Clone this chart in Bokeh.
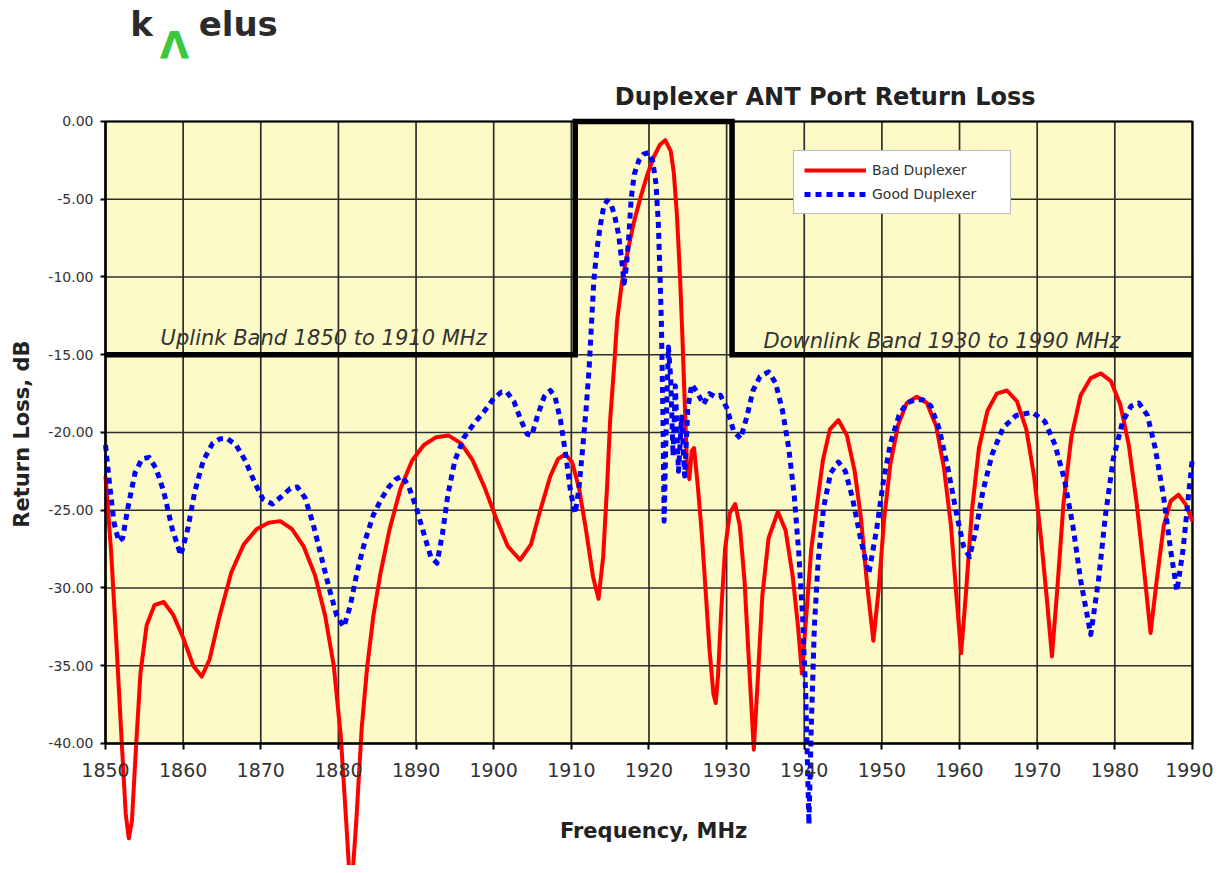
import numpy as np
from bokeh.plotting import figure
from bokeh.models import (Range1d, LinearAxis, FixedTicker, PrintfTickFormatter,
                          Label, Legend, LegendItem)
from bokeh.embed import file_html
from bokeh.resources import INLINE

# ---------------- data ----------------
bad_freq = [1850.0, 1850.7, 1851.4, 1852.1, 1852.6, 1853.0, 1853.4, 1853.9, 1854.5, 1855.3,
            1856.3, 1857.5, 1858.7, 1860.0, 1861.3, 1862.4, 1863.4, 1864.7, 1866.2, 1867.8,
            1869.5, 1871.0, 1872.5, 1874.0, 1875.5, 1877.0, 1878.3, 1879.4, 1880.3, 1881.0,
            1881.6, 1882.3, 1883.0, 1883.7, 1884.5, 1885.4, 1886.6, 1888.0, 1889.5, 1891.0,
            1892.6, 1894.2, 1895.8, 1897.3, 1898.8, 1900.3, 1901.8, 1903.4, 1904.8, 1906.0,
            1907.3, 1908.3, 1909.2, 1910.1, 1911.0, 1911.9, 1912.8, 1913.5, 1914.1, 1914.6,
            1915.0, 1915.5, 1915.9, 1916.5, 1917.2, 1918.0, 1918.9, 1919.8, 1920.6, 1921.4,
            1922.1, 1922.8, 1923.2, 1923.6, 1924.0, 1924.3, 1924.6, 1924.9, 1925.2, 1925.5,
            1925.8, 1926.3, 1926.8, 1927.3, 1927.8, 1928.3, 1928.6, 1928.9, 1929.3, 1929.8,
            1930.4, 1931.1, 1931.7, 1932.3, 1932.9, 1933.5, 1934.0, 1934.6, 1935.4, 1936.6,
            1937.6, 1938.5, 1939.2, 1939.7, 1940.3, 1940.9, 1941.6, 1942.4, 1943.3, 1944.4,
            1945.5, 1946.5, 1947.3, 1948.1, 1948.9, 1949.6, 1950.3, 1951.1, 1952.1, 1953.2,
            1954.5, 1955.8, 1957.0, 1958.0, 1958.9, 1959.6, 1960.2, 1960.8, 1961.6, 1962.5,
            1963.6, 1964.8, 1966.1, 1967.4, 1968.6, 1969.6, 1970.5, 1971.3, 1971.9, 1972.6,
            1973.4, 1974.4, 1975.6, 1976.9, 1978.2, 1979.5, 1980.7, 1981.8, 1982.8, 1983.8,
            1984.6, 1985.4, 1986.3, 1987.2, 1988.2, 1989.1, 1990.0]
bad_rl = [-22.8, -27.5, -33.5, -40.0, -44.5, -46.1, -45.0, -40.5, -35.5, -32.4,
          -31.1, -30.9, -31.7, -33.2, -35.0, -35.7, -34.6, -31.8, -29.0, -27.2,
          -26.2, -25.8, -25.7, -26.2, -27.3, -29.2, -31.8, -35.0, -39.5, -45.0,
          -50.0, -45.0, -39.0, -35.1, -31.8, -29.1, -26.2, -23.6, -21.8, -20.8,
          -20.3, -20.2, -20.7, -21.8, -23.5, -25.5, -27.3, -28.2, -27.2, -25.0,
          -22.8, -21.7, -21.4, -21.9, -23.6, -26.3, -29.3, -30.7, -28.0, -23.5,
          -19.2, -15.8, -12.8, -10.4, -8.5, -6.6, -4.9, -3.4, -2.3, -1.5,
          -1.2, -1.9, -3.3, -6.0, -10.0, -13.8, -18.0, -22.3, -23.0, -21.2,
          -21.0, -23.5, -26.5, -30.2, -34.0, -36.8, -37.4, -35.6, -31.5, -27.5,
          -25.2, -24.6, -26.0, -29.5, -35.0, -40.4, -36.0, -30.5, -26.8, -25.1,
          -26.3, -29.2, -32.5, -35.5, -31.5, -27.5, -24.8, -21.8, -19.8, -19.2,
          -20.2, -22.5, -25.5, -29.8, -33.4, -30.0, -25.5, -22.0, -19.5, -18.1,
          -17.7, -18.1, -19.6, -22.3, -26.0, -30.5, -34.2, -30.5, -25.0, -21.0,
          -18.6, -17.5, -17.3, -18.0, -19.8, -22.8, -26.8, -31.0, -34.4, -30.0,
          -24.5, -20.3, -17.6, -16.5, -16.2, -16.7, -18.2, -20.8, -24.5, -29.0,
          -32.9, -29.5, -26.0, -24.4, -24.0, -24.6, -25.7]

good_freq = [1850.0, 1850.5, 1851.1, 1851.7, 1852.2, 1852.9, 1853.8, 1854.7, 1855.6, 1856.5,
             1857.5, 1858.6, 1859.7, 1860.6, 1861.5, 1862.6, 1863.8, 1864.8, 1865.7, 1866.8,
             1868.0, 1869.2, 1870.3, 1871.5, 1872.7, 1873.8, 1874.7, 1875.7, 1876.7, 1877.7,
             1878.8, 1879.8, 1880.7, 1881.5, 1882.4, 1883.4, 1884.5, 1885.5, 1886.5, 1887.4,
             1888.2, 1889.0, 1890.0, 1891.0, 1891.9, 1892.7, 1893.4, 1894.1, 1895.0, 1896.2,
             1897.5, 1898.7, 1900.0, 1901.0, 1901.7, 1902.6, 1903.5, 1904.3, 1904.9, 1905.6,
             1906.5, 1907.3, 1907.9, 1908.6, 1909.3, 1909.9, 1910.5, 1911.0, 1911.5, 1911.9,
             1912.3, 1912.6, 1912.9, 1913.3, 1913.8, 1914.2, 1914.6, 1915.1, 1915.6, 1916.1,
             1916.5, 1916.8, 1917.1, 1917.4, 1917.7, 1918.1, 1918.7, 1919.3, 1920.0, 1920.5,
             1920.9, 1921.2, 1921.4, 1921.6, 1921.8, 1921.95, 1922.2, 1922.5, 1922.8, 1923.1,
             1923.4, 1923.8, 1924.2, 1924.6, 1925.0, 1925.5, 1926.2, 1927.0, 1927.8, 1928.5,
             1929.2, 1930.0, 1930.9, 1931.8, 1932.6, 1933.4, 1934.3, 1935.4, 1936.3, 1937.2,
             1938.0, 1938.7, 1939.3, 1939.8, 1940.2, 1940.6, 1940.9, 1941.3, 1941.8, 1942.5,
             1943.4, 1944.4, 1945.3, 1946.2, 1947.2, 1948.3, 1949.3, 1950.2, 1951.1, 1952.2,
             1953.2, 1954.3, 1955.3, 1956.3, 1957.4, 1958.5, 1959.6, 1960.5, 1961.3, 1962.1,
             1963.0, 1964.2, 1965.6, 1967.3, 1969.4, 1971.0, 1972.3, 1973.5, 1974.6, 1975.6,
             1976.9, 1977.9, 1978.8, 1979.8, 1981.0, 1982.1, 1983.1, 1984.2, 1985.2, 1986.3,
             1987.2, 1988.0, 1988.8, 1989.5, 1990.0]
good_rl = [-20.8, -23.2, -25.8, -27.0, -26.8, -24.8, -22.6, -21.7, -21.6, -22.3,
           -23.8, -26.2, -27.9, -26.2, -23.8, -21.8, -20.7, -20.4, -20.4, -20.8,
           -21.8, -23.2, -24.3, -24.6, -24.1, -23.6, -23.5, -24.2, -25.8, -27.8,
           -30.0, -31.8, -32.5, -31.2, -29.0, -27.0, -25.3, -24.3, -23.5, -23.0,
           -22.8, -23.4, -24.8, -26.5, -28.0, -28.4, -26.5, -24.0, -21.8, -20.3,
           -19.4, -18.7, -17.8, -17.4, -17.4, -18.0, -19.2, -20.1, -20.2, -19.0,
           -17.7, -17.3, -17.7, -19.2, -21.5, -23.8, -25.2, -23.5, -20.8, -18.5,
           -15.8, -13.0, -10.2, -8.2, -6.5, -5.4, -5.1, -5.3, -6.1, -7.3,
           -9.0, -10.4, -9.3, -7.4, -5.0, -3.4, -2.5, -2.1, -2.0, -2.6,
           -4.0, -6.5, -9.5, -13.0, -19.0, -25.7, -20.0, -14.5, -16.5, -21.5,
           -17.0, -22.5, -19.0, -22.8, -18.5, -16.9, -17.4, -18.2, -17.5, -17.7,
           -17.6, -18.4, -19.9, -20.4, -19.0, -17.3, -16.4, -16.1, -16.8, -18.6,
           -21.0, -24.0, -27.8, -32.0, -37.0, -45.2, -39.0, -32.5, -28.2, -24.8,
           -22.6, -21.9, -22.5, -24.2, -26.7, -29.1, -26.3, -23.1, -20.7, -18.9,
           -18.1, -17.9, -17.9, -18.3, -19.8, -22.3, -25.2, -27.3, -28.0, -26.3,
           -23.8, -21.4, -19.7, -18.9, -18.7, -19.3, -20.8, -23.0, -26.0, -29.5,
           -33.0, -29.5, -25.3, -21.7, -19.3, -18.3, -18.1, -18.9, -21.0, -24.2,
           -27.6, -30.2, -27.5, -24.0, -21.6]

# band limit mask (Uplink / Downlink bands)
band_freq = [1850.0, 1910.5, 1910.5, 1930.7, 1930.7, 1990.0]
band_rl = [-15.0, -15.0, 0.0, 0.0, -15.0, -15.0]

x_ticks = [1850, 1860, 1870, 1880, 1890, 1900, 1910, 1920, 1930, 1940, 1950, 1960, 1970, 1980, 1990]
y_ticks = [-40, -35, -30, -25, -20, -15, -10, -5, 0]

# ---------------- styling ----------------
FONT = "DejaVu Sans"
YELLOW = "#FCFAC6"
X0, X1 = x_ticks[0], x_ticks[-1]
Y0, Y1 = y_ticks[0], y_ticks[-1]

p = figure(width=1213, height=865,
           x_range=Range1d(1836.476, 1992.71), y_range=Range1d(-47.846, 7.781),
           output_backend="svg", toolbar_location=None,
           x_axis_location=None, y_axis_location=None,
           min_border=0, min_border_left=0, min_border_right=0,
           min_border_top=0, min_border_bottom=0,
           outline_line_color=None,
           background_fill_color="white", border_fill_color="white")
p.grid.visible = False

# plot area background
p.quad(left=[X0], right=[X1], bottom=[Y0], top=[Y1], fill_color=YELLOW, line_color=None)

# grid lines
p.segment(x0=x_ticks, y0=[Y0] * len(x_ticks), x1=x_ticks, y1=[Y1] * len(x_ticks),
          line_color="#2e2e2e", line_width=1.7)
p.segment(x0=[X0] * len(y_ticks), y0=y_ticks, x1=[X1] * len(y_ticks), y1=y_ticks,
          line_color="#2e2e2e", line_width=1.7)

# plot area border
p.quad(left=[X0], right=[X1], bottom=[Y0], top=[Y1], fill_color=None,
       line_color="black", line_width=2.2)

# band mask
p.line(band_freq, band_rl, line_color="black", line_width=5.5, line_join="miter")

# series
r_bad = p.line(bad_freq, bad_rl, line_color="#FF0000", line_width=4, line_join="round")
r_good = p.line(good_freq, good_rl, line_color="#0000FF", line_width=5,
                line_dash="6 5", line_join="round")

# axes (fixed at the plot-area edges)
xaxis = LinearAxis(fixed_location=Y0, bounds=(X0, X1),
                   ticker=FixedTicker(ticks=x_ticks),
                   axis_line_color="black", axis_line_width=2,
                   major_tick_line_color="black", major_tick_line_width=2,
                   major_tick_out=6, major_tick_in=0,
                   minor_tick_line_color=None,
                   major_label_standoff=14,
                   major_label_text_font=FONT, major_label_text_font_size="19px",
                   major_label_text_color="#333333")
p.add_layout(xaxis, "below")

yaxis = LinearAxis(fixed_location=X0, bounds=(Y0, Y1),
                   ticker=FixedTicker(ticks=y_ticks),
                   formatter=PrintfTickFormatter(format="%.2f"),
                   axis_line_color="black", axis_line_width=2,
                   major_tick_line_color="black", major_tick_line_width=2,
                   major_tick_out=5, major_tick_in=0,
                   minor_tick_line_color=None,
                   major_label_standoff=7,
                   major_label_text_font=FONT, major_label_text_font_size="14px",
                   major_label_text_color="#333333")
p.add_layout(yaxis, "left")

# texts
def add_label(x, y, text, size, **kw):
    opts = dict(text_font=FONT, text_font_size=size, text_color="#222222",
                text_align="left", text_baseline="middle")
    opts.update(kw)
    p.add_layout(Label(x=x, y=y, text=text, **opts))

add_label(1942.7, 1.6, "Duplexer ANT Port Return Loss", "24px",
          text_font_style="bold", text_align="center")
add_label(1920.6, -45.6, "Frequency, MHz", "21px", text_font_style="bold", text_align="center")
add_label(1839.3, -20.1, "Return Loss, dB", "21px", text_font_style="bold",
          text_align="center", angle=np.pi / 2)
add_label(1857.1, -13.9, "Uplink Band 1850 to 1910 MHz", "21px",
          text_font_style="italic", text_color="#333333")
add_label(1934.75, -14.1, "Downlink Band 1930 to 1990 MHz", "21px",
          text_font_style="italic", text_color="#333333")

# logo
add_label(1853.2, 6.3, "k", "34px", text_font_style="bold", text_color="#2b2b2b",
          text_baseline="alphabetic")
add_label(1857.0, 4.9, "Λ", "38px", text_font_style="bold", text_color="#3cc83c",
          text_baseline="alphabetic")
add_label(1862.0, 6.3, "elus", "34px", text_font_style="bold", text_color="#2b2b2b",
          text_baseline="alphabetic")

# legend
legend = Legend(items=[LegendItem(label="Bad Duplexer", renderers=[r_bad]),
                       LegendItem(label="Good Duplexer", renderers=[r_good])],
                location=(793, 651), orientation="vertical",
                label_text_font=FONT, label_text_font_size="14px",
                label_text_color="#333333",
                border_line_color="#777777", border_line_width=1.5,
                background_fill_color="white", background_fill_alpha=1.0,
                padding=10, spacing=6, margin=0, label_width=128,
                glyph_width=62, glyph_height=18, label_height=18, label_standoff=6)
p.add_layout(legend)

open("out.html", "w").write(file_html(p, INLINE))
